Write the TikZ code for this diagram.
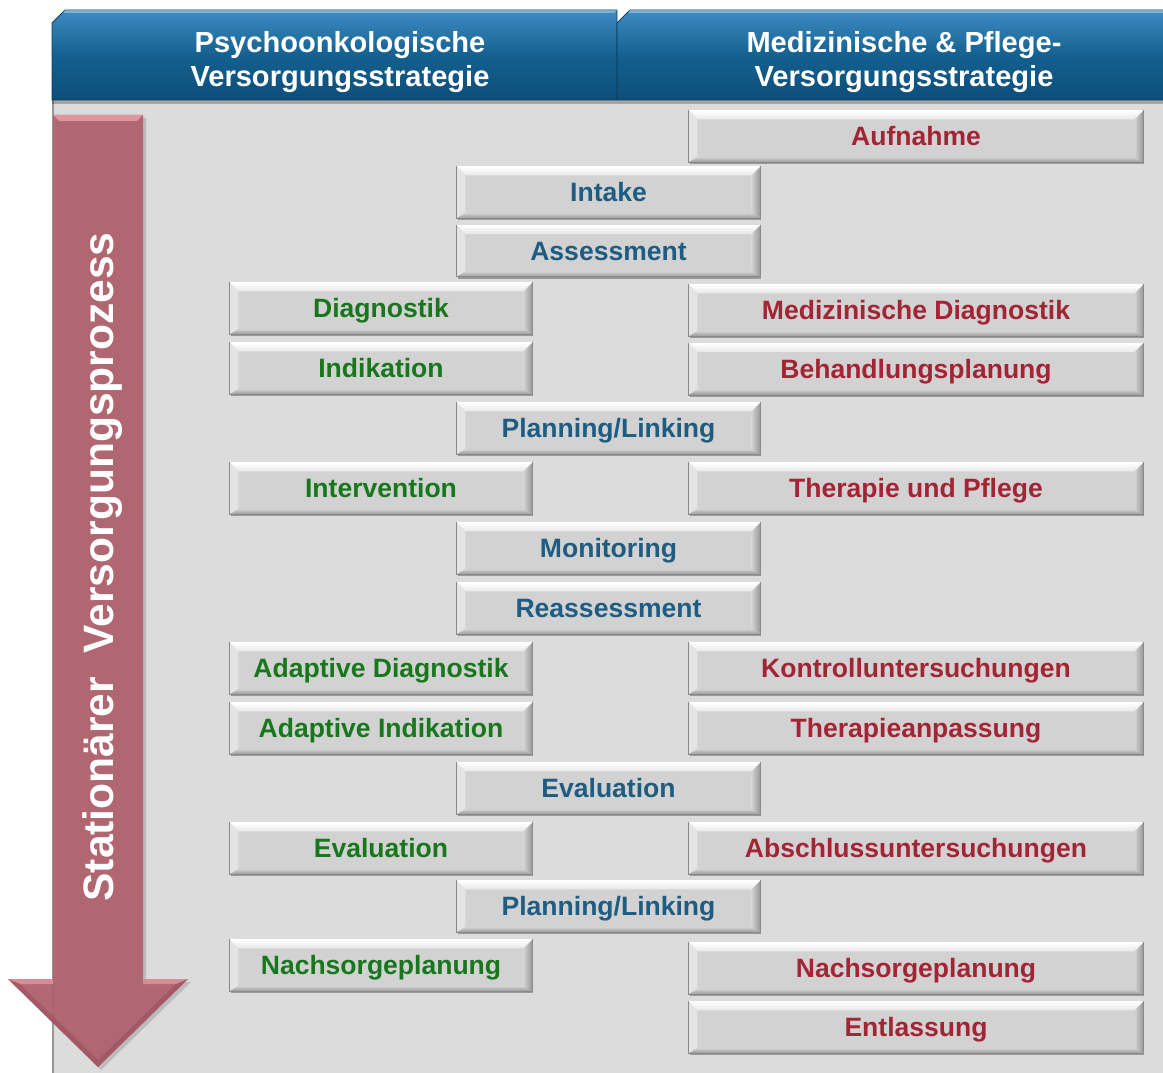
\documentclass[tikz,border=0pt]{standalone}
\usepackage{fontspec}
\setmainfont{Liberation Sans}
\usetikzlibrary{calc,shadows}

\definecolor{boxface}{RGB}{210,210,210}
\definecolor{boxedge}{RGB}{138,138,138}
\definecolor{boxdark}{RGB}{150,150,150}
\definecolor{boxlight}{RGB}{228,228,228}
\definecolor{boxtopend}{RGB}{232,232,232}
\definecolor{panel}{RGB}{220,220,220}
\definecolor{panelline}{RGB}{150,150,150}
\definecolor{hdrtop}{RGB}{62,140,196}
\definecolor{hdrmid}{RGB}{20,96,143}
\definecolor{hdrbot}{RGB}{13,78,122}
\definecolor{arrowred}{RGB}{176,96,108}
\definecolor{arrowlight}{RGB}{222,150,160}
\definecolor{arrowdark}{RGB}{150,76,88}
\definecolor{greentxt}{RGB}{24,118,28}
\definecolor{bluetxt}{RGB}{30,92,130}
\definecolor{redtxt}{RGB}{163,36,52}

\tikzset{
  stepbox/.style={rectangle, inner sep=0pt, minimum height=38.25pt,
    text height=14pt, text depth=0pt,
    fill=boxface, draw=boxedge, line width=0.6pt,
    font=\bfseries\fontsize{19.9}{22}\selectfont,
    drop shadow={shadow xshift=0.6pt, shadow yshift=-1.6pt, opacity=0.3, fill=black}},
  leftcol/.style={stepbox, minimum width=226.5pt, text=greentxt},
  midcol/.style={stepbox, minimum width=227.25pt, text=bluetxt},
  rightcol/.style={stepbox, minimum width=340.5pt, text=redtxt},
  hdrtext/.style={text=white, align=center, font=\bfseries\fontsize{21.8}{26}\selectfont},
  hdrshape/.style={draw=hdrbot!80!black, line width=0.6pt,
    top color=hdrtop, bottom color=hdrbot, middle color=hdrmid},
}

% raised bevel facets along the border of a step node
\newcommand\bevelize[1]{%
  \shade[top color=white, bottom color=boxtopend]
    (#1.north west) -- (#1.north east) -- ($(#1.north east)+(-6.5pt,-6.5pt)$) -- ($(#1.north west)+(6.5pt,-6.5pt)$) -- cycle;
  \fill[boxlight]
    (#1.north west) -- ($(#1.north west)+(6.5pt,-6.5pt)$) -- ($(#1.south west)+(6.5pt,4pt)$) -- (#1.south west) -- cycle;
  \shade[left color=boxface, right color=boxdark]
    (#1.north east) -- ($(#1.north east)+(-6.5pt,-6.5pt)$) -- ($(#1.south east)+(-6.5pt,4pt)$) -- (#1.south east) -- cycle;
  \shade[top color=boxface, bottom color=boxdark]
    (#1.south west) -- ($(#1.south west)+(6.5pt,4pt)$) -- ($(#1.south east)+(-6.5pt,4pt)$) -- (#1.south east) -- cycle;
  \draw[boxedge, line width=0.6pt] (#1.north west) rectangle (#1.south east);
  \draw[white, line width=0.6pt] (#1.north west) -- (#1.north east);
}

\begin{document}
\begin{tikzpicture}[x=0.75pt,y=-0.75pt]
\useasboundingbox (0,0) rectangle (1163,1073);

% grey working area
\fill[panel] (52,98) rectangle (1163,1073);
\draw[panelline, line width=1.5pt] (53,98) -- (53,1073);

% column headers
\fill[black, opacity=0.25] (52,100) rectangle (1163,104);
\path[hdrshape] (52,100) -- (52,23) -- (65,10) -- (617,10) -- (617,100) -- cycle;
\path[hdrshape] (617,100) -- (617,23) -- (630,10) -- (1170,10) -- (1170,100) -- cycle;
\fill[white, opacity=0.35] (65,10) -- (617,10) -- (614,13) -- (63,13) -- cycle;
\fill[white, opacity=0.35] (630,10) -- (1170,10) -- (1170,13) -- (628,13) -- cycle;
\node[hdrtext] (hpsy) at (340,62) {Psychoonkologische\\Versorgungsstrategie};
\node[hdrtext] (hmed) at (904,62) {Medizinische \& Pflege-\\Versorgungsstrategie};

% process arrow
\fill[black, opacity=0.15] (56,118) -- (146,118) -- (146,982) -- (191,982) -- (101,1070) -- (11,982) -- (56,982) -- cycle;
\fill[arrowred, opacity=0.92] (53,115) -- (143,115) -- (143,979) -- (188,979) -- (98,1067) -- (8,979) -- (53,979) -- cycle;
\fill[arrowlight] (53,115) -- (143,115) -- (137,121) -- (59,121) -- cycle;
\fill[arrowlight, opacity=0.8] (8,979) -- (53,979) -- (53,984) -- (20,984) -- cycle;
\fill[arrowlight, opacity=0.8] (143,979) -- (188,979) -- (176,984) -- (143,984) -- cycle;
\fill[arrowdark, opacity=0.5] (20,984) -- (98,1060) -- (176,984) -- (188,979) -- (98,1067) -- (8,979) -- cycle;
\node[rotate=90, anchor=base, text=white, font=\bfseries\fontsize{31.9}{36}\selectfont]
  (proc) at (113,567) {Stationärer\ \ Versorgungsprozess};

% process steps
\node[rightcol] (aufn)  at (916,136.5) {Aufnahme};
\node[midcol]   (intk)  at (608.5,192.5) {Intake};
\node[midcol]   (assm)  at (608.5,251) {Assessment};
\node[leftcol]  (pdia)  at (381,308.5) {Diagnostik};
\node[rightcol] (mdia)  at (916,310.5) {Medizinische Diagnostik};
\node[leftcol]  (pind)  at (381,368.5) {Indikation};
\node[rightcol] (bplan) at (916,369) {Behandlungsplanung};
\node[midcol]   (plk1)  at (608.5,428.5) {Planning/Linking};
\node[leftcol]  (pint)  at (381,488.5) {Intervention};
\node[rightcol] (thpf)  at (916,488.5) {Therapie und Pflege};
\node[midcol]   (moni)  at (608.5,548.5) {Monitoring};
\node[midcol]   (reas)  at (608.5,608.5) {Reassessment};
\node[leftcol]  (adia)  at (381,668.5) {Adaptive Diagnostik};
\node[rightcol] (kont)  at (916,668.5) {Kontrolluntersuchungen};
\node[leftcol]  (aind)  at (381,728.5) {Adaptive Indikation};
\node[rightcol] (tanp)  at (916,728.5) {Therapieanpassung};
\node[midcol]   (eval)  at (608.5,788.5) {Evaluation};
\node[leftcol]  (peval) at (381,848.5) {Evaluation};
\node[rightcol] (absu)  at (916,848.5) {Abschlussuntersuchungen};
\node[midcol]   (plk2)  at (608.5,906.5) {Planning/Linking};
\node[leftcol]  (pnach) at (381,965.5) {Nachsorgeplanung};
\node[rightcol] (mnach) at (916,968.5) {Nachsorgeplanung};
\node[rightcol] (entl)  at (916,1027.5) {Entlassung};

\foreach \n in {aufn,intk,assm,pdia,mdia,pind,bplan,plk1,pint,thpf,moni,reas,
                adia,kont,aind,tanp,eval,peval,absu,plk2,pnach,mnach,entl}
  {\bevelize{\n}}
\end{tikzpicture}
\end{document}
